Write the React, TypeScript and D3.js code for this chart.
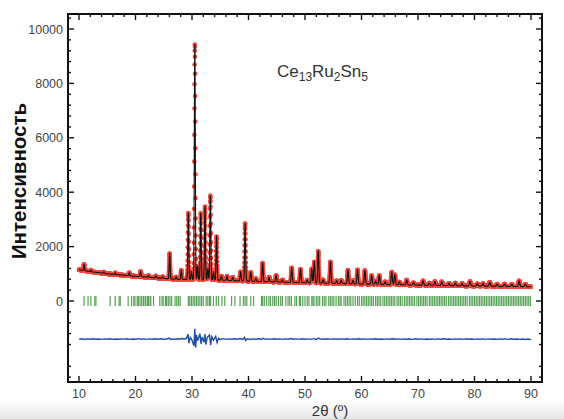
import React from 'react';
import * as d3 from 'd3';

// ---------- data ----------
const xTickValues = [10, 20, 30, 40, 50, 60, 70, 80, 90];
const yTickValues = [0, 2000, 4000, 6000, 8000, 10000];

// background (2θ, intensity)
const bgTheta = [10, 12, 15, 20, 25, 28, 32, 36, 40, 45, 50, 55, 60, 65, 70, 75, 80, 85, 90];
const bgInt = [1150, 1080, 1000, 910, 830, 790, 780, 760, 730, 700, 670, 650, 625, 605, 585, 568, 552, 538, 525];

// Bragg peaks: position (2θ) and height above background
const peakPos = [10.9, 12.1, 14.4, 16.4, 18.9, 20.9, 22.3, 23.6, 24.8, 26.05, 27.2, 28.1,
  29.35, 29.9, 30.5, 31.0, 31.55, 32.3, 32.8, 33.25, 33.8, 34.35, 35.2, 36.2, 37.2, 38.6,
  39.4, 40.4, 41.3, 42.5, 43.65, 44.9, 46.0, 47.65, 49.2, 50.4, 51.2, 51.65, 52.35, 53.2,
  54.5, 55.6, 56.4, 57.6, 58.5, 59.3, 60.6, 61.8, 62.5, 63.15, 64.2, 65.35, 65.9, 66.7,
  68.0, 69.2, 70.9, 72.0, 73.0, 74.2, 75.5, 76.6, 77.8, 79.2, 80.5, 81.5, 82.7, 84.0,
  85.3, 86.6, 87.9, 89.0];
const peakHeight = [230, 60, 50, 60, 110, 190, 60, 70, 60, 930, 80, 340,
  2450, 300, 8650, 500, 2450, 2700, 400, 3100, 300, 1600, 150, 150, 120, 330,
  2120, 330, 100, 680, 170, 240, 80, 540, 500, 100, 520, 780, 1170, 120,
  790, 100, 120, 500, 120, 520, 500, 320, 120, 330, 100, 460, 360, 100,
  180, 80, 160, 80, 140, 140, 80, 100, 80, 160, 80, 90, 140, 80,
  90, 80, 210, 90];

// calculated reflection positions (green ticks)
const braggTicks = [10.9, 11.6, 12.1, 12.8, 13.0, 15.5, 16.4, 17.1, 17.3, 18.7, 19.3, 19.7, 19.9,
  20.3, 20.5, 20.8, 21.1, 21.4, 21.7, 21.8, 22.1, 22.3, 22.6, 22.7, 23.2, 24.3, 24.7, 24.9, 25.3,
  25.5, 25.8, 26.1, 26.4, 27.0, 27.3, 27.6, 27.9, 29.35, 29.6, 29.9, 30.2, 30.5, 30.8, 31.1, 31.4,
  31.7, 32.0, 32.5, 32.8, 33.1, 33.3, 33.8, 34.3, 34.7, 35.3, 35.8, 37.0, 37.6, 38.5, 39.1, 39.4,
  39.7, 40.4, 40.9, 42.3, 42.5, 42.8, 43.2, 43.6, 43.9, 44.3, 44.6, 44.9, 45.3, 45.7, 46.0, 46.6,
  47.0, 47.3, 47.6, 48.2, 48.5, 49.0, 49.2, 49.6, 50.0, 50.4, 50.7, 51.2, 51.4, 51.6, 52.0, 52.3,
  52.6, 53.1, 53.4, 53.7, 54.2, 54.5, 54.8, 55.1, 55.5, 55.9, 56.2, 56.4, 56.9, 57.2, 57.5, 57.8,
  58.1, 58.5, 58.9, 59.3, 59.6, 60.0, 60.3, 60.6, 60.9, 61.2, 61.5, 61.8, 62.1, 62.5, 62.8, 63.1,
  63.4, 63.8, 64.1, 64.4, 64.7, 65.0, 65.3, 65.6, 65.9, 66.3, 66.6, 66.9, 67.2, 67.6, 67.9, 68.2,
  68.5, 68.8, 69.1, 69.4, 69.8, 70.1, 70.4, 70.7, 71.0, 71.3, 71.6, 72.0, 72.3, 72.6, 72.9, 73.2,
  73.5, 73.8, 74.1, 74.4, 74.7, 75.0, 75.4, 75.7, 76.0, 76.3, 76.6, 76.9, 77.2, 77.5, 77.8, 78.1,
  78.4, 78.7, 79.1, 79.4, 79.7, 80.0, 80.3, 80.6, 80.9, 81.2, 81.5, 81.8, 82.1, 82.4, 82.7, 83.0,
  83.3, 83.6, 83.9, 84.2, 84.5, 84.8, 85.1, 85.4, 85.7, 86.0, 86.3, 86.6, 86.9, 87.2, 87.5, 87.8,
  88.1, 88.4, 88.7, 89.0, 89.3, 89.6, 89.9];

// difference curve (obs - calc), offset below zero
const diffTheta = [
  10, 10.5, 11, 11.5, 12, 12.5, 13, 13.5, 14, 14.5,
  15, 15.5, 16, 16.5, 17, 17.5, 18, 18.5, 19, 19.5,
  20, 20.5, 21, 21.5, 22, 22.5, 23, 23.5, 24, 24.5,
  25, 25.5, 26, 26.2, 26.5, 27, 27.5, 28, 28.2, 28.5,
  29, 29.3, 29.45, 29.7, 30.0, 30.35, 30.5, 30.65, 30.8, 31.0,
  31.4, 31.6, 31.8, 32.1, 32.3, 32.45, 32.7, 33.1, 33.3, 33.5,
  33.8, 34.2, 34.45, 34.7, 35.0, 35.5, 36, 36.5, 37, 37.5,
  38, 38.5, 39, 39.3, 39.5, 39.8, 40.3, 40.8, 41.3, 41.8,
  42.3, 42.6, 43, 43.5, 44, 44.5, 45, 45.5, 46, 46.5,
  47, 47.6, 48, 48.5, 49, 49.5, 50, 50.5, 51, 51.5,
  52, 52.4, 52.7, 53, 53.5, 54, 54.5, 55, 55.5, 56,
  56.5, 57, 57.5, 58, 58.5, 59, 59.5, 60, 60.5, 61,
  61.5, 62, 62.5, 63, 63.5, 64, 64.5, 65, 65.5, 66,
  66.5, 67, 67.5, 68, 68.5, 69, 69.5, 70, 70.5, 71,
  71.5, 72, 72.5, 73, 73.5, 74, 74.5, 75, 75.5, 76,
  76.5, 77, 77.5, 78, 78.5, 79, 79.5, 80, 80.5, 81,
  81.5, 82, 82.5, 83, 83.5, 84, 84.5, 85, 85.5, 86,
  86.5, 87, 87.5, 88, 88.5, 89, 89.5, 90];
const diffInt = [
  -1400, -1390, -1415, -1392, -1405, -1388, -1408, -1395, -1410, -1394,
  -1404, -1390, -1412, -1396, -1406, -1391, -1403, -1388, -1410, -1395,
  -1408, -1385, -1405, -1392, -1412, -1394, -1404, -1390, -1406, -1388,
  -1408, -1395, -1360, -1420, -1392, -1404, -1390, -1406, -1370, -1395,
  -1380, -1220, -1550, -1340, -1440, -1650, -1020, -1720, -1250, -1460,
  -1200, -1580, -1320, -1520, -1220, -1600, -1340, -1250, -1620, -1310,
  -1440, -1300, -1530, -1370, -1420, -1385, -1410, -1392, -1405, -1388,
  -1408, -1380, -1410, -1340, -1450, -1390, -1415, -1392, -1406, -1390,
  -1412, -1375, -1408, -1394, -1410, -1388, -1405, -1392, -1410, -1394,
  -1404, -1380, -1408, -1394, -1412, -1390, -1406, -1392, -1410, -1385,
  -1412, -1360, -1410, -1395, -1408, -1390, -1412, -1394, -1396, -1408,
  -1392, -1404, -1388, -1410, -1394, -1406, -1390, -1408, -1392, -1410,
  -1394, -1404, -1390, -1408, -1396, -1410, -1392, -1406, -1388, -1404,
  -1394, -1410, -1392, -1406, -1396, -1410, -1390, -1408, -1394, -1412,
  -1396, -1406, -1392, -1410, -1394, -1404, -1390, -1408, -1396, -1412,
  -1392, -1406, -1394, -1410, -1390, -1404, -1396, -1412, -1392, -1406,
  -1394, -1410, -1392, -1408, -1396, -1410, -1392, -1406, -1394, -1412,
  -1390, -1408, -1398, -1410, -1396, -1415, -1400, -1420];

const FONT = '"Liberation Sans", Arial, Helvetica, sans-serif';

export default function App() {
  const W = 564, H = 419;
  const L = 68, R = 542, T = 14, B = 382;

  const x = d3.scaleLinear().domain([10, 90]).range([79, 531]);
  const y = d3.scaleLinear().domain([0, 10000]).range([301, 29]);
  const bg = d3.scaleLinear().domain(bgTheta).range(bgInt).clamp(true);

  const profile = (t: number) => {
    let v = bg(t);
    for (let i = 0; i < peakPos.length; i++) {
      const s = 0.07 + 0.0005 * peakPos[i];
      const d = (t - peakPos[i]) / s;
      if (Math.abs(d) < 8) v += peakHeight[i] * Math.exp(-0.5 * d * d);
    }
    return v;
  };

  const calcT = d3.range(10, 90.0001, 0.008);
  const calcLine = d3.line<number>().x((t) => x(t)).y((t) => y(profile(t)))(calcT) || '';
  const obsT = d3.range(10, 90.0001, 0.016);

  const diffLine = d3.line<number>().x((_, i) => x(diffTheta[i])).y((v) => y(v))(diffInt) || '';

  const xMinor = d3.range(10, 91, 2).filter((v) => v % 10 !== 0);
  const yMinor = d3.range(-2800, 10500, 400).filter((v) => v % 2000 !== 0);

  return (
    <div style={{ position: 'fixed', left: 0, top: 0, width: W, height: H, background: '#fff' }}>
      <svg width={W} height={H} style={{ display: 'block' }}>
        <defs>
          <linearGradient id="shade" x1="0" y1="0" x2="0" y2="1">
            <stop offset="0" stopColor="#ffffff" />
            <stop offset="1" stopColor="#e6e6e6" />
          </linearGradient>
        </defs>
        <rect x={0} y={400} width={W} height={H - 400} fill="url(#shade)" />

        {/* Bragg ticks */}
        <g stroke="#2e8b2e" strokeWidth={1.2} opacity={0.8}>
          {braggTicks.map((t, i) => (
            <line key={i} x1={x(t)} x2={x(t)} y1={296} y2={306} />
          ))}
        </g>

        {/* observed points */}
        <g fill="#f02a1c" opacity={0.85}>
          {obsT.map((t, i) => (
            <circle key={i} cx={x(t)} cy={y(profile(t))} r={2.3} />
          ))}
        </g>
        {/* calculated */}
        <path d={calcLine} fill="none" stroke="#111" strokeWidth={1.1} />

        {/* difference */}
        <path d={diffLine} fill="none" stroke="#1f4fa8" strokeWidth={1.4} />

        {/* frame */}
        <rect x={L} y={T} width={R - L} height={B - T} fill="none" stroke="#111" strokeWidth={2} />

        {/* ticks */}
        <g stroke="#111" strokeWidth={1.4}>
          {xTickValues.map((v) => (
            <g key={'xt' + v}>
              <line x1={x(v)} x2={x(v)} y1={B} y2={B - 6} />
              <line x1={x(v)} x2={x(v)} y1={T} y2={T + 6} />
            </g>
          ))}
          {xMinor.map((v) => (
            <g key={'xm' + v}>
              <line x1={x(v)} x2={x(v)} y1={B} y2={B - 3} />
              <line x1={x(v)} x2={x(v)} y1={T} y2={T + 3} />
            </g>
          ))}
          {yTickValues.map((v) => (
            <g key={'yt' + v}>
              <line x1={L} x2={L + 6} y1={y(v)} y2={y(v)} />
              <line x1={R} x2={R - 6} y1={y(v)} y2={y(v)} />
            </g>
          ))}
          {yMinor.map((v) => (
            <g key={'ym' + v}>
              <line x1={L} x2={L + 3} y1={y(v)} y2={y(v)} />
              <line x1={R} x2={R - 3} y1={y(v)} y2={y(v)} />
            </g>
          ))}
        </g>

        {/* tick labels */}
        <g fontFamily={FONT} fontSize={12.5} fill="#444">
          {xTickValues.map((v) => (
            <text key={'xl' + v} x={x(v)} y={398} textAnchor="middle">{v}</text>
          ))}
          {yTickValues.map((v) => (
            <text key={'yl' + v} x={63} y={y(v) + 4.5} textAnchor="end">{v}</text>
          ))}
        </g>

        {/* axis titles */}
        <text x={330} y={416} textAnchor="middle" fontFamily={FONT} fontSize={15} fill="#333">
          2θ (º)
        </text>
        <text
          transform="translate(26,181) rotate(-90)"
          textAnchor="middle"
          fontFamily={FONT}
          fontSize={20.5}
          fontWeight="bold"
          fill="#111"
        >
          Интенсивность
        </text>

        {/* compound label */}
        <text x={277} y={77} fontFamily={FONT} fontSize={17} fill="#333">
          Ce<tspan fontSize={12} dy={4}>13</tspan>
          <tspan dy={-4}>Ru</tspan>
          <tspan fontSize={12} dy={4}>2</tspan>
          <tspan dy={-4}>Sn</tspan>
          <tspan fontSize={12} dy={4}>5</tspan>
        </text>
      </svg>
    </div>
  );
}
